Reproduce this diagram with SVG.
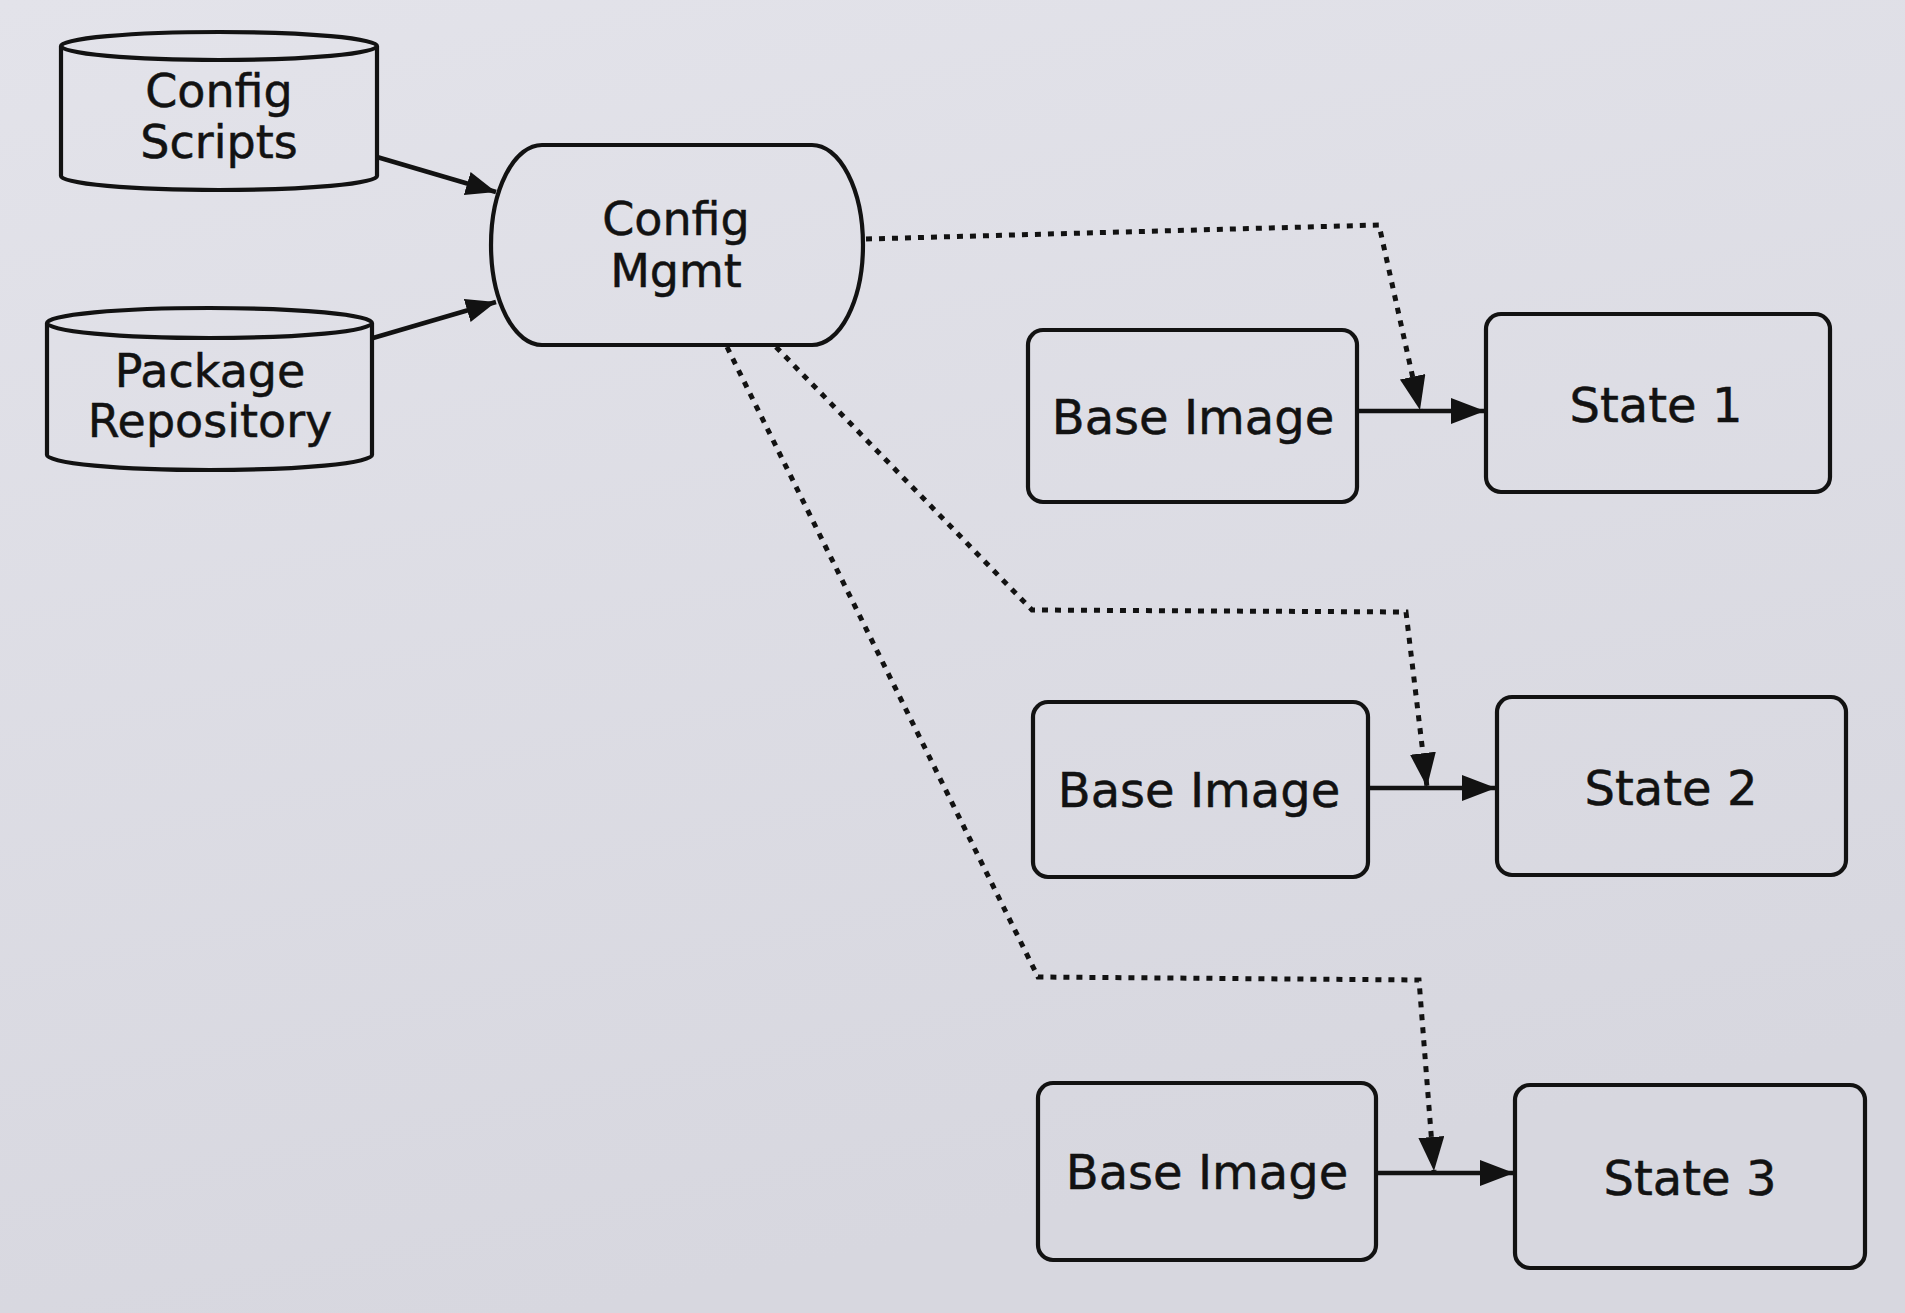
<svg xmlns="http://www.w3.org/2000/svg" width="1905" height="1313" viewBox="0 0 1905 1313">
  <defs>
    <linearGradient id="paper" x1="0" y1="0" x2="0.3" y2="1">
      <stop offset="0" stop-color="#e3e3ea"/>
      <stop offset="1" stop-color="#d7d7df"/>
    </linearGradient>
    <marker id="arrow" markerUnits="userSpaceOnUse" markerWidth="36" markerHeight="28" refX="34" refY="13" orient="auto">
      <path d="M0,0 L34,13 L0,26 Z" fill="#121212"/>
    </marker>
    <marker id="arrowS" markerUnits="userSpaceOnUse" markerWidth="32" markerHeight="26" refX="30" refY="12" orient="auto">
      <path d="M0,0 L30,12 L0,24 Z" fill="#121212"/>
    </marker>
  </defs>
  <style>
    .shape { fill: none; stroke: #121212; stroke-width: 4.2; }
    .label { font-family: "DejaVu Sans", "Liberation Sans", sans-serif; fill: #121212; stroke: #121212; stroke-width: 0.5; text-anchor: middle; }
    .small { font-size: 46px; }
    .big { font-size: 48px; }
    .solid { fill: none; stroke: #121212; stroke-width: 4.5; }
    .dotted { fill: none; stroke: #121212; stroke-width: 5; stroke-dasharray: 6 7; }
  </style>
  <rect x="0" y="0" width="1905" height="1313" fill="url(#paper)"/>

  <g id="config-scripts">
    <path class="shape" d="M61,46 A158,14 0 0 1 377,46 V176 A158,14 0 0 1 61,176 Z"/>
    <path class="shape" d="M61,46 A158,14 0 0 0 377,46"/>
    <text class="label small" x="219" y="107">Config</text>
    <text class="label small" x="219" y="158">Scripts</text>
  </g>

  <g id="package-repository">
    <path class="shape" d="M47,323 A162.5,15 0 0 1 372,323 V455 A162.5,15 0 0 1 47,455 Z"/>
    <path class="shape" d="M47,323 A162.5,15 0 0 0 372,323"/>
    <text class="label small" x="210" y="387">Package</text>
    <text class="label small" x="210" y="437">Repository</text>
  </g>

  <g id="config-mgmt">
    <path class="shape" d="M542,145 H812 A51,100 0 0 1 812,345 H542 A51,100 0 0 1 542,145 Z"/>
    <text class="label small" x="676" y="235">Config</text>
    <text class="label small" x="676" y="287">Mgmt</text>
  </g>

  <g id="base-image-1">
    <rect class="shape" x="1028" y="330" width="329" height="172" rx="15"/>
    <text class="label big" x="1193" y="434">Base Image</text>
  </g>
  <g id="state-1">
    <rect class="shape" x="1486" y="314" width="344" height="178" rx="15"/>
    <text class="label big" x="1656" y="422">State 1</text>
  </g>

  <g id="base-image-2">
    <rect class="shape" x="1033" y="702" width="335" height="175" rx="15"/>
    <text class="label big" x="1199" y="807">Base Image</text>
  </g>
  <g id="state-2">
    <rect class="shape" x="1497" y="697" width="349" height="178" rx="15"/>
    <text class="label big" x="1671" y="805">State 2</text>
  </g>

  <g id="base-image-3">
    <rect class="shape" x="1038" y="1083" width="338" height="177" rx="15"/>
    <text class="label big" x="1207" y="1189">Base Image</text>
  </g>
  <g id="state-3">
    <rect class="shape" x="1515" y="1085" width="350" height="183" rx="15"/>
    <text class="label big" x="1690" y="1195">State 3</text>
  </g>

  <g id="connectors">
    <path class="solid" d="M377,157 L496,192" marker-end="url(#arrowS)"/>
    <path class="solid" d="M373,338 L496,302" marker-end="url(#arrowS)"/>

    <path class="solid" d="M1357,411 L1485,411" marker-end="url(#arrow)"/>
    <path class="solid" d="M1368,788 L1496,788" marker-end="url(#arrow)"/>
    <path class="solid" d="M1376,1173 L1514,1173" marker-end="url(#arrow)"/>

    <path class="dotted" d="M866,239 L1379,225 L1420,410" marker-end="url(#arrow)"/>
    <path class="dotted" d="M776,347 L1032,610 L1406,612 L1427,787" marker-end="url(#arrow)"/>
    <path class="dotted" d="M727,347 L1038,977 L1419,980 L1434,1171" marker-end="url(#arrow)"/>
  </g>
</svg>
